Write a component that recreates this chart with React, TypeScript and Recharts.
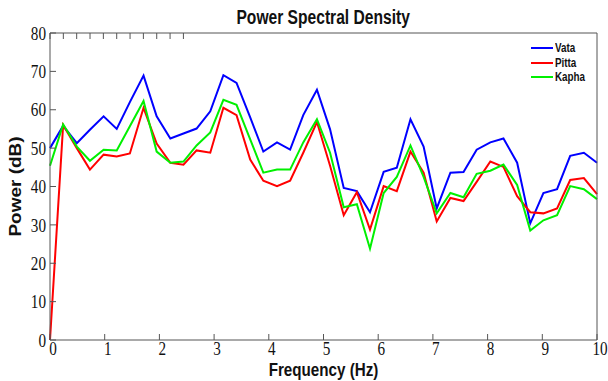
import { Line, LineChart, XAxis, YAxis } from "recharts";

const freq = [
  0, 0.24, 0.49, 0.73, 0.98, 1.22, 1.46, 1.71, 1.95, 2.2, 2.44, 2.68, 2.93, 3.17,
  3.41, 3.66, 3.9, 4.15, 4.39, 4.63, 4.88, 5.12, 5.37, 5.61, 5.85, 6.1, 6.34, 6.59,
  6.83, 7.07, 7.32, 7.56, 7.8, 8.05, 8.29, 8.54, 8.78, 9.02, 9.27, 9.51, 9.76, 10,
];
const vata = [
  50, 55.8, 51.3, 54.8, 58.3, 55, 62, 68.9, 58.3, 52.5, 53.8, 55.1, 59.6, 69, 67,
  58, 49.1, 51.5, 49.6, 58.6, 65.2, 54.9, 39.6, 38.8, 33.3, 43.8, 44.9, 57.5, 50.4,
  34.3, 43.6, 43.8, 49.6, 51.5, 52.5, 46.2, 30.4, 38.3, 39.3, 48, 48.8, 46.2,
];
const pitta = [
  0, 56, 50, 44.4, 48.3, 47.8, 48.6, 60.5, 51.2, 46.2, 45.7, 49.4, 48.8, 60.5, 58.6,
  47, 41.5, 40.1, 41.5, 48.8, 56.8, 45.4, 32.5, 38.5, 28.8, 40.1, 38.8, 49.1, 43.6,
  30.9, 37, 36.2, 41.2, 46.5, 45.1, 37.5, 33.3, 33, 34.3, 41.7, 42.2, 38,
];
const kapha = [
  45.4, 56.2, 50.4, 46.7, 49.6, 49.4, 55.7, 62.3, 49.1, 46.2, 46.5, 50.7, 54.1, 62.6,
  61.3, 52.3, 43.6, 44.4, 44.4, 51.5, 57.5, 48.8, 34.6, 35.4, 23.8, 38.3, 42.5, 50.7,
  42.5, 33, 38.3, 37.2, 43.3, 44.1, 45.7, 40.4, 28.5, 31.2, 32.5, 40.1, 39.3, 36.7,
];
const xTicks = [0, 1, 2, 3, 4, 5, 6, 7, 8, 9, 10];
const yTicks = [0, 10, 20, 30, 40, 50, 60, 70, 80];

const seriesList = [
  { key: "vata", name: "Vata", color: "#0000ff" },
  { key: "pitta", name: "Pitta", color: "#ff0000" },
  { key: "kapha", name: "Kapha", color: "#00f000" },
];

const data = freq.map((f, i) => ({
  f,
  vata: vata[i],
  pitta: pitta[i],
  kapha: kapha[i],
}));

// the original figure looks squeezed sideways, so text gets a scaleX
const sans = '"Liberation Sans", Arial, sans-serif';
const serif = '"Liberation Serif", "Times New Roman", serif';
const axisColor = "#555";
const squeeze = 0.8;

const xTick = (props: any) => {
  const { x, y, payload } = props;
  return (
    <text
      transform={`translate(${x + 3}, ${y}) scale(${squeeze}, 1)`}
      textAnchor="middle"
      dy="0.71em"
      fontFamily={serif}
      fontSize={19}
      fill="#111"
    >
      {payload.value}
    </text>
  );
};

const yTick = (props: any) => {
  const { x, y, payload } = props;
  return (
    <text
      transform={`translate(${x}, ${y}) scale(${squeeze}, 1)`}
      textAnchor="end"
      dy="0.35em"
      fontFamily={serif}
      fontSize={19}
      fill="#111"
    >
      {payload.value}
    </text>
  );
};

const xLabel = (props: any) => {
  const { x, y, width, height } = props.viewBox;
  return (
    <text
      transform={`translate(${x + width / 2}, ${y + height - 5}) scale(0.8, 1)`}
      textAnchor="middle"
      fontFamily={sans}
      fontWeight="bold"
      fontSize={19}
      fill="#111"
    >
      Frequency (Hz)
    </text>
  );
};

const yLabel = (props: any) => {
  const { y, height } = props.viewBox;
  const cx = 21;
  const cy = y + height / 2;
  return (
    <text
      transform={`translate(${cx}, ${cy}) scale(0.86, 1) rotate(-90)`}
      textAnchor="middle"
      fontFamily={sans}
      fontWeight="bold"
      fontSize={19}
      fill="#111"
    >
      Power (dB)
    </text>
  );
};

export default function App() {
  return (
    <div
      style={{
        position: "absolute",
        left: 0,
        top: 0,
        width: 608,
        height: 381,
        background: "#fff",
      }}
    >
      <div
        style={{
          position: "absolute",
          left: 0,
          top: 6,
          width: 647,
          textAlign: "center",
          fontFamily: sans,
          fontWeight: "bold",
          fontSize: 20,
          color: "#111",
          lineHeight: "22px",
        }}
      >
        <span style={{ display: "inline-block", transform: "scaleX(0.78)" }}>
          Power Spectral Density
        </span>
      </div>
      <div
        style={{
          position: "absolute",
          left: 531,
          top: 41,
          fontFamily: sans,
          fontWeight: "bold",
          fontSize: 12,
          zIndex: 1,
        }}
      >
        {seriesList.map((s) => (
          <div
            key={s.key}
            style={{ display: "flex", alignItems: "center", height: 14.5 }}
          >
            <svg width={24} height={4}>
              <line x1={0} x2={22} y1={2} y2={2} stroke={s.color} strokeWidth={2} />
            </svg>
            <span
              style={{
                color: "#111",
                display: "inline-block",
                transform: "scaleX(0.82)",
                transformOrigin: "left center",
              }}
            >
              {s.name}
            </span>
          </div>
        ))}
      </div>
      <LineChart
        width={608}
        height={381}
        data={data}
        margin={{ top: 32, right: 10, bottom: 0, left: 0 }}
      >
        <XAxis
          dataKey="f"
          type="number"
          domain={[0, 10]}
          ticks={xTicks}
          interval={0}
          height={41}
          tickSize={-6}
          tickMargin={8}
          tick={xTick}
          stroke={axisColor}
          label={xLabel}
        />
        <XAxis
          xAxisId="top"
          orientation="top"
          type="number"
          domain={[0, 10]}
          ticks={xTicks}
          interval={0}
          height={1}
          tickSize={-6}
          tickFormatter={() => ""}
          stroke={axisColor}
        />
        <YAxis
          type="number"
          domain={[0, 80]}
          ticks={yTicks}
          interval={0}
          width={50}
          tickSize={-6}
          tickMargin={10}
          tick={yTick}
          stroke={axisColor}
          label={yLabel}
        />
        <YAxis
          yAxisId="right"
          orientation="right"
          type="number"
          domain={[0, 80]}
          ticks={yTicks}
          interval={0}
          width={1}
          tickSize={-6}
          tickFormatter={() => ""}
          stroke={axisColor}
        />
        {seriesList.map((s) => (
          <Line
            key={s.key}
            dataKey={s.key}
            name={s.name}
            stroke={s.color}
            strokeWidth={2}
            dot={false}
            type="linear"
            isAnimationActive={false}
          />
        ))}
      </LineChart>
    </div>
  );
}
